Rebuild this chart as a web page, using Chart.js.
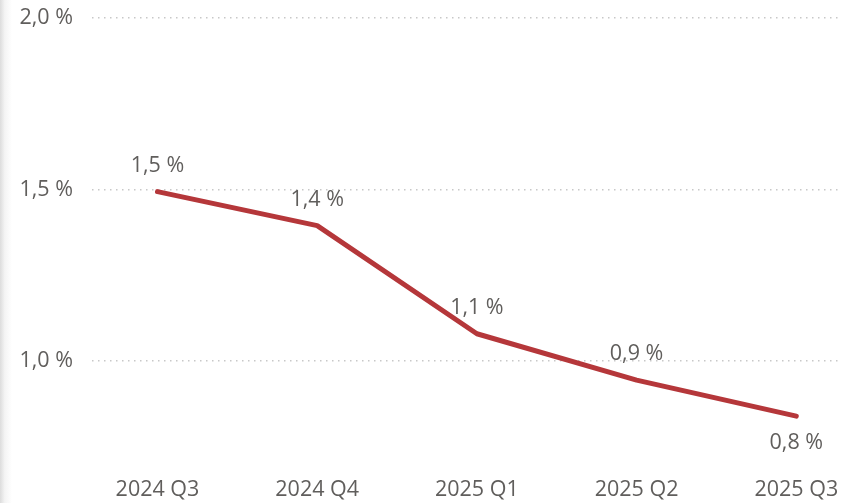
<!DOCTYPE html>
<html>
<head>
<meta charset="utf-8">
<script src="https://cdn.jsdelivr.net/npm/chart.js@4/dist/chart.umd.min.js"></script>
<style>
    html, body { margin: 0; padding: 0; background: #fff; }
    #wrap { position: relative; width: 841px; height: 503px; overflow: hidden; }
    #edge { position: absolute; left: 0; top: 0; width: 12px; height: 503px;
            background: linear-gradient(to right, #dcdcdc, #f4f4f4 40%, #fff); }
    canvas { position: absolute; left: 0; top: 0; }
</style>
</head>
<body>
<div id="wrap">
    <div id="edge"></div>
    <canvas id="linhas" width="841" height="503"></canvas>
</div>
<script>
const quarters = ['2024 Q3', '2024 Q4', '2025 Q1', '2025 Q2', '2025 Q3'];
const rates = [1.494, 1.395, 1.08, 0.945, 0.84];
const yTicks = [1.0, 1.5, 2.0];

const textColor = '#605e5c';
const fontFamily = '"Open Sans", "Noto Sans", sans-serif';
const fontSize = 21.5;

const formatPct = (v, digits = 1) => v.toFixed(digits).replace('.', ',') + ' %';

// writes the value above each point, the last one goes under the line
const pointLabels = {
    id: 'pointLabels',
    afterDatasetsDraw(chart) {
        const ctx = chart.ctx;
        const meta = chart.getDatasetMeta(0);
        ctx.save();
        ctx.font = fontSize + 'px ' + fontFamily;
        ctx.fillStyle = textColor;
        ctx.textAlign = 'center';
        ctx.textBaseline = 'middle';
        meta.data.forEach((pt, i) => {
            const below = i === meta.data.length - 1;
            ctx.fillText(formatPct(rates[i]), pt.x, pt.y + (below ? 27 : -26));
        });
        ctx.restore();
    }
};

const loadChart = () => {
    new Chart(document.getElementById('linhas'), {
        type: 'line',
        data: {
            datasets: [{
                data: rates.map((r, i) => ({ x: i, y: r })),
                borderColor: '#b5373a',
                borderWidth: 5,
                borderCapStyle: 'round',
                borderJoinStyle: 'round',
                pointRadius: 0,
                tension: 0,
                fill: false
            }]
        },
        options: {
            responsive: false,
            animation: false,
            layout: { padding: { top: 18, right: 0, left: 0, bottom: 0 } },
            plugins: {
                legend: { display: false },
                tooltip: { enabled: false }
            },
            scales: {
                x: {
                    type: 'linear',
                    min: -0.41,
                    max: 4.28,
                    afterBuildTicks: (scale) => {
                        scale.ticks = quarters.map((q, i) => ({ value: i }));
                    },
                    afterFit: (scale) => {
                        scale.height = 56;
                        scale.paddingLeft = 0;
                        scale.paddingRight = 0;
                    },
                    grid: { display: false, drawTicks: false },
                    border: { display: false },
                    ticks: {
                        padding: 30,
                        maxRotation: 0,
                        autoSkip: false,
                        color: textColor,
                        font: { family: fontFamily, size: fontSize },
                        callback: (v) => quarters[v]
                    }
                },
                y: {
                    min: 0.75,
                    max: 2.0,
                    afterBuildTicks: (scale) => {
                        scale.ticks = yTicks.map(v => ({ value: v }));
                    },
                    afterFit: (scale) => {
                        scale.width = 92;
                        scale.paddingTop = 0;
                        scale.paddingBottom = 0;
                    },
                    grid: {
                        drawTicks: false,
                        color: '#c8c8c8',
                        lineWidth: 1.5
                    },
                    border: { display: false, dash: [1.5, 4.5] },
                    ticks: {
                        padding: 19,
                        color: textColor,
                        font: { family: fontFamily, size: fontSize },
                        callback: (v) => formatPct(v)
                    }
                }
            }
        },
        plugins: [pointLabels]
    });
};

window.addEventListener('load', loadChart);
</script>
</body>
</html>
